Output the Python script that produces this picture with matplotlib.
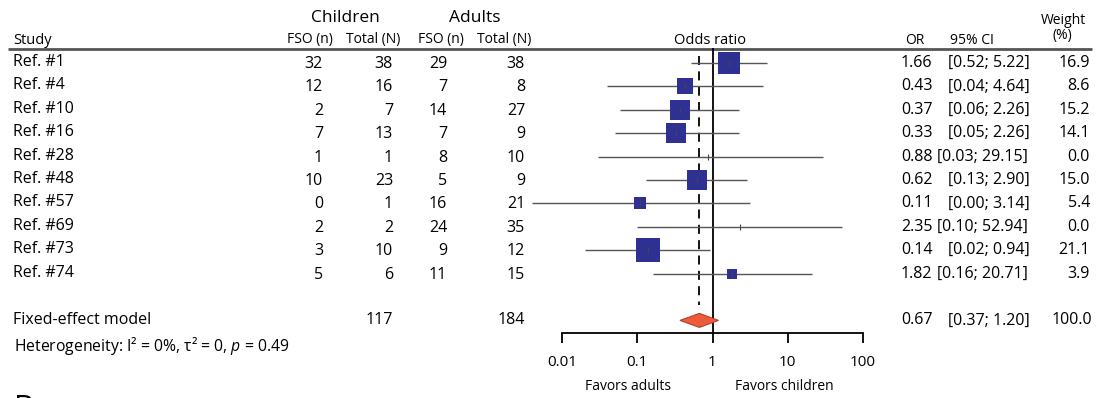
import numpy as np
import matplotlib
matplotlib.use("Agg")
from matplotlib import pyplot as plt

plt.rcParams['font.family'] = ['Open Sans', 'DejaVu Sans']
plt.rcParams['mathtext.fontset'] = 'custom'
plt.rcParams['mathtext.rm'] = 'Open Sans'
plt.rcParams['mathtext.it'] = 'Open Sans:italic'

studies = ["Ref. #1", "Ref. #4", "Ref. #10", "Ref. #16", "Ref. #28",
           "Ref. #48", "Ref. #57", "Ref. #69", "Ref. #73", "Ref. #74"]
child_fso = [32, 12, 2, 7, 1, 10, 0, 2, 3, 5]
child_tot = [38, 16, 7, 13, 1, 23, 1, 2, 10, 6]
adult_fso = [29, 7, 14, 7, 8, 5, 16, 24, 9, 11]
adult_tot = [38, 8, 27, 9, 10, 9, 21, 35, 12, 15]
odds = [1.66, 0.43, 0.37, 0.33, 0.88, 0.62, 0.11, 2.35, 0.14, 1.82]
ci_lo = [0.52, 0.04, 0.06, 0.05, 0.03, 0.13, 0.004, 0.10, 0.02, 0.16]
ci_hi = [5.22, 4.64, 2.26, 2.26, 29.15, 2.90, 3.14, 52.94, 0.94, 20.71]
weight = [16.9, 8.6, 15.2, 14.1, 0.0, 15.0, 5.4, 0.0, 21.1, 3.9]
fixed_or, fixed_lo, fixed_hi, fixed_weight = 0.67, 0.37, 1.20, 100.0
total_children, total_adults = 117, 184
ticks = [0.01, 0.1, 1, 10, 100]
tick_labels = ["0.01", "0.1", "1", "10", "100"]

W, H = 1096, 398
fig = plt.figure(figsize=(W / 100, H / 100), dpi=100)

# text layer in pixel coordinates
tab = fig.add_axes([0, 0, 1, 1])
tab.set_xlim(0, W)
tab.set_ylim(H, 0)
tab.axis('off')

row0, dy = 63, 23.4
def ypx(r):
    return row0 + dy * r

fs = 11.5
# header
tab.text(345, 18, "Children", ha='center', va='center', fontsize=12.5)
tab.text(475, 18, "Adults", ha='center', va='center', fontsize=12.5)
tab.text(13, 40, "Study", ha='left', va='center', fontsize=10.5)
for x, s in [(310, "FSO (n)"), (373, "Total (N)"), (441, "FSO (n)"), (504, "Total (N)")]:
    tab.text(x, 40, s, ha='center', va='center', fontsize=10)
tab.text(710, 40, "Odds ratio", ha='center', va='center', fontsize=10.5)
tab.text(915, 41, "OR", ha='center', va='center', fontsize=10)
tab.text(972, 41, "95% CI", ha='center', va='center', fontsize=10)
tab.text(1063, 20, "Weight", ha='center', va='center', fontsize=10)
tab.text(1062, 35, "(%)", ha='center', va='center', fontsize=10)
tab.plot([8, 1092], [48.5, 48.5], color='#555555', lw=2, solid_capstyle='butt')

def ci_text(lo, hi):
    return "[%.2f; %.2f]" % (lo, hi)

for i, name in enumerate(studies):
    y = ypx(i)
    tab.text(13, y - 1, name, ha='left', va='center', fontsize=fs)
    tab.text(323, y + 1, str(child_fso[i]), ha='right', va='center', fontsize=fs)
    tab.text(393, y + 1, str(child_tot[i]), ha='right', va='center', fontsize=fs)
    tab.text(447, y + 1, str(adult_fso[i]), ha='right', va='center', fontsize=fs)
    tab.text(525, y + 1, str(adult_tot[i]), ha='right', va='center', fontsize=fs)
    tab.text(901, y, "%.2f" % odds[i], ha='left', va='center', fontsize=fs)
    cx = 937 if ci_hi[i] >= 10 else 948
    tab.text(cx, y, ci_text(ci_lo[i], ci_hi[i]), ha='left', va='center', fontsize=fs)
    tab.text(1090, y, "%.1f" % weight[i], ha='right', va='center', fontsize=fs)

yf = ypx(11)
tab.text(13, yf, "Fixed-effect model", ha='left', va='center', fontsize=fs)
tab.text(393, yf, str(total_children), ha='right', va='center', fontsize=fs)
tab.text(525, yf, str(total_adults), ha='right', va='center', fontsize=fs)
tab.text(901, yf, "%.2f" % fixed_or, ha='left', va='center', fontsize=fs)
tab.text(948, yf, ci_text(fixed_lo, fixed_hi), ha='left', va='center', fontsize=fs)
tab.text(1092, yf, "%.1f" % fixed_weight, ha='right', va='center', fontsize=fs)
tab.text(14, 346, "Heterogeneity: I² = 0%, τ² = 0, $p$ = 0.49", ha='left', va='center', fontsize=11.3)
tab.text(628, 387, "Favors adults", ha='center', va='center', fontsize=10)
tab.text(784, 387, "Favors children", ha='center', va='center', fontsize=10)
tab.text(14, 394, "B", ha='left', va='top', fontsize=22)

# forest panel on a log scale
dec, x1 = 75.3, 712.5
lo_px, hi_px = x1 - 2.6 * dec, x1 + 2.6 * dec
top_px, bot_px = 48, 332.5
ax = fig.add_axes([lo_px / W, (H - bot_px) / H, (hi_px - lo_px) / W, (bot_px - top_px) / H])
ax.patch.set_alpha(0)
ax.set_xscale('log')
ax.set_xlim(10 ** -2.6, 10 ** 2.6)
ax.set_ylim((bot_px - row0) / dy, (top_px - row0) / dy)

rows = np.arange(len(studies))
ax.hlines(rows, ci_lo, ci_hi, color='#555555', lw=1.0, zorder=2)
for i in rows:
    if weight[i] > 0:
        side = 5.3 * np.sqrt(weight[i]) * 0.72
        ax.plot(odds[i], i, marker='s', ms=side, color='#2E3192', mec='#2E3192', mew=0, zorder=3)
    ax.plot(odds[i], i, marker='|', ms=5, color='#444444', mew=0.8, zorder=4)

ax.axvline(1, color='black', lw=1.3, zorder=1)
ax.plot([fixed_or, fixed_or], [-0.3, 10.34], color='black', lw=1.3, dashes=(5, 3.5), zorder=1)

hd = 7 / dy
ax.fill([fixed_lo, fixed_or, fixed_hi, fixed_or], [11, 11 - hd, 11, 11 + hd],
        facecolor='#EE5A3C', edgecolor='#B5412B', lw=0.8, zorder=5)

for s in ['top', 'left', 'right']:
    ax.spines[s].set_visible(False)
ax.spines['bottom'].set_bounds(0.01, 100)
ax.spines['bottom'].set_linewidth(1.3)
ax.set_xticks(ticks)
ax.set_xticklabels(tick_labels, fontsize=11)
ax.xaxis.set_minor_locator(matplotlib.ticker.NullLocator())
ax.tick_params(axis='x', length=7.2, width=1.3, pad=9)
ax.set_yticks([])

fig.savefig("out.png", dpi=100)
